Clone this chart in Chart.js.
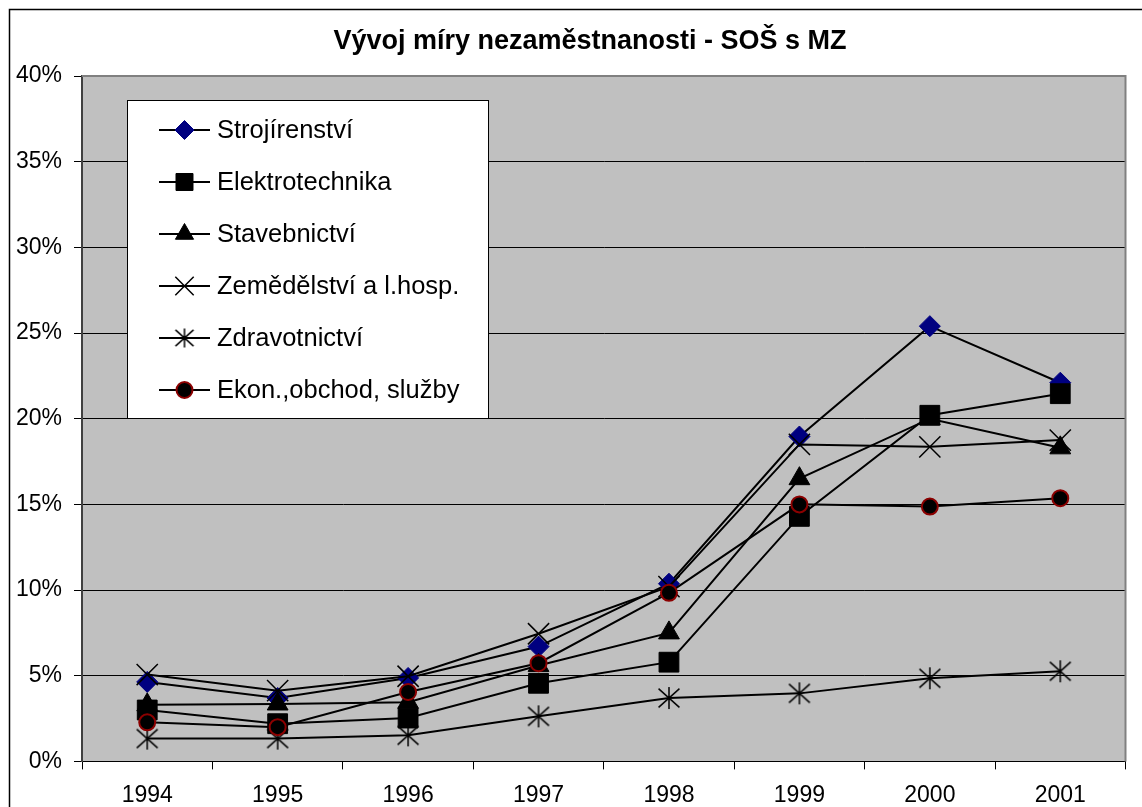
<!DOCTYPE html>
<html><head><meta charset="utf-8">
<script src="https://cdn.jsdelivr.net/npm/chart.js@4/dist/chart.umd.min.js"></script>
<style>html,body{margin:0;padding:0;background:#fff;overflow:hidden;width:1142px;height:807px}canvas{display:block}</style>
</head><body>
<canvas id="c" width="1142" height="821"></canvas>
<script>
const chartTitle = 'Vývoj míry nezaměstnanosti - SOŠ s MZ';
const categories = ['1994','1995','1996','1997','1998','1999','2000','2001'];
const seriesNames = ['Strojírenství','Elektrotechnika','Stavebnictví','Zemědělství a l.hosp.','Zdravotnictví','Ekon.,obchod, služby'];
const strojirenstvi   = [4.64, 3.70, 4.87, 6.70, 10.37, 18.96, 25.40, 22.10];
const elektrotechnika = [3.00, 2.20, 2.53, 4.56, 5.79, 14.30, 20.20, 21.46];
const stavebnictvi    = [3.30, 3.35, 3.45, 5.60, 7.50, 16.50, 20.00, 18.30];
const zemedelstvi     = [5.07, 4.13, 4.97, 7.45, 10.20, 18.50, 18.36, 18.75];
const zdravotnictvi   = [1.33, 1.33, 1.52, 2.63, 3.70, 3.97, 4.85, 5.26];
const ekonomika       = [2.28, 2.00, 4.05, 5.73, 9.84, 15.00, 14.87, 15.36];
const yMax = 40, yStep = 5;

function makeStar(r, lw){
  const s = 26; const c = document.createElement('canvas'); c.width = s; c.height = s;
  const x = c.getContext('2d'); x.strokeStyle = '#000'; x.lineWidth = lw; const m = s/2;
  x.beginPath();
  x.moveTo(m, m-r); x.lineTo(m, m+r);
  x.moveTo(m-r*0.95, m-r*0.85); x.lineTo(m+r*0.95, m+r*0.85);
  x.moveTo(m+r*0.95, m-r*0.85); x.lineTo(m-r*0.95, m+r*0.85);
  x.stroke();
  return c;
}
const starPlot = makeStar(11, 1.5);
const starLegend = makeStar(9.5, 1.5);

const base = {borderColor:'#000', borderWidth:2, tension:0, fill:false};
const datasets = [
  Object.assign({}, base, {label:seriesNames[0], data:strojirenstvi, pointStyle:'rectRot', pointRadius:10.5, pointBackgroundColor:'#000080', pointBorderColor:'#000080', pointBorderWidth:1, order:5}),
  Object.assign({}, base, {label:seriesNames[1], data:elektrotechnika, pointStyle:'rect', pointRadius:14, pointBackgroundColor:'#000', pointBorderColor:'#000', pointBorderWidth:1, order:4}),
  Object.assign({}, base, {label:seriesNames[2], data:stavebnictvi, pointStyle:'triangle', pointRadius:12, pointBackgroundColor:'#000', pointBorderColor:'#000', pointBorderWidth:1, order:3}),
  Object.assign({}, base, {label:seriesNames[3], data:zemedelstvi, pointStyle:'crossRot', pointRadius:15, pointBackgroundColor:'#000', pointBorderColor:'#000', pointBorderWidth:1.5, order:2}),
  Object.assign({}, base, {label:seriesNames[4], data:zdravotnictvi, pointStyle:starPlot, pointRadius:11, pointBackgroundColor:'#000', pointBorderColor:'#000', pointBorderWidth:1.5, order:1}),
  Object.assign({}, base, {label:seriesNames[5], data:ekonomika, pointStyle:'circle', pointRadius:8, pointBackgroundColor:'#000', pointBorderColor:'#8b0000', pointBorderWidth:2, order:0})
];
const legendStyles = [
  {pointStyle:'rectRot', radius:9.5, bg:'#000080', bc:'#000080', bw:1},
  {pointStyle:'rect', radius:12, bg:'#000', bc:'#000', bw:1},
  {pointStyle:'triangle', radius:10.5, bg:'#000', bc:'#000', bw:1},
  {pointStyle:'crossRot', radius:13, bg:'#000', bc:'#000', bw:1.5},
  {pointStyle:starLegend, radius:9, bg:'#000', bc:'#000', bw:1.5},
  {pointStyle:'circle', radius:8, bg:'#000', bc:'#8b0000', bw:2}
];

const decor = {
  id:'decor',
  afterLayout(chart){
    const t = chart.titleBlock;
    if (t) { t.left = 38; t.right = 1142; t.width = 1104; }
  },
  beforeDraw(chart){
    const {ctx, chartArea:a} = chart;
    ctx.save();
    ctx.fillStyle = '#fff'; ctx.fillRect(0,0,chart.width,chart.height);
    ctx.fillStyle = '#c0c0c0'; ctx.fillRect(a.left, a.top, a.right-a.left, a.bottom-a.top);
    ctx.restore();
  },
  afterDraw(chart){
    const {ctx, chartArea:a} = chart;
    ctx.save();
    ctx.strokeStyle = '#808080'; ctx.lineWidth = 2;
    ctx.beginPath(); ctx.moveTo(a.left, a.top); ctx.lineTo(a.right, a.top); ctx.lineTo(a.right, a.bottom); ctx.stroke();
    ctx.strokeStyle = '#000'; ctx.lineWidth = 1.5;
    ctx.beginPath(); ctx.moveTo(9.5, chart.height); ctx.lineTo(9.5, 9.5); ctx.lineTo(chart.width, 9.5); ctx.stroke();
    const lx = 127, ly = 100, lw = 361, lh = 318;
    ctx.fillStyle = '#fff'; ctx.fillRect(lx, ly, lw, lh);
    ctx.strokeStyle = '#000'; ctx.lineWidth = 1; ctx.strokeRect(lx+0.5, ly+0.5, lw, lh);
    ctx.font = '25.5px "Liberation Sans", Arial, sans-serif';
    ctx.textBaseline = 'middle'; ctx.textAlign = 'left';
    chart.data.datasets.forEach((ds, i) => {
      const y = 130 + i*52;
      ctx.strokeStyle = '#000'; ctx.lineWidth = 2;
      ctx.beginPath(); ctx.moveTo(159, y); ctx.lineTo(210, y); ctx.stroke();
      const st = legendStyles[i];
      ctx.fillStyle = st.bg; ctx.strokeStyle = st.bc; ctx.lineWidth = st.bw;
      Chart.helpers.drawPoint(ctx, {pointStyle:st.pointStyle, radius:st.radius, rotation:0, borderWidth:st.bw}, 184.5, y);
      ctx.fillStyle = '#000';
      ctx.fillText(ds.label, 217, y+1);
    });
    ctx.restore();
  }
};

new Chart(document.getElementById('c'), {
  type:'line',
  data:{labels:categories, datasets},
  options:{
    responsive:false, animation:false, devicePixelRatio:1,
    layout:{padding:{left:0, right:15, top:0, bottom:0}},
    plugins:{
      legend:{display:false}, tooltip:{enabled:false},
      title:{display:true, text:chartTitle, color:'#000', font:{family:'"Liberation Sans", Arial, sans-serif', size:27, weight:'bold', lineHeight:1.2}, padding:{top:25.8, bottom:17.8}}
    },
    scales:{
      x:{type:'category', offset:true,
        grid:{offset:true, drawOnChartArea:false, drawTicks:true, tickLength:8, color:'#000', lineWidth:1},
        border:{color:'#000', width:1},
        ticks:{color:'#000', padding:12, maxRotation:0, autoSkip:false, font:{family:'"Liberation Sans", Arial, sans-serif', size:23, lineHeight:1.2}}},
      y:{min:0, max:yMax,
        afterFit(s){ s.width = 82; },
        grid:{color:'#000', lineWidth:1, drawTicks:true, tickLength:8},
        border:{color:'#404040', width:2},
        ticks:{stepSize:yStep, color:'#000', padding:12, callback:v => v + '%', font:{family:'"Liberation Sans", Arial, sans-serif', size:23}}}
    }
  },
  plugins:[decor]
});
</script>
</body></html>
